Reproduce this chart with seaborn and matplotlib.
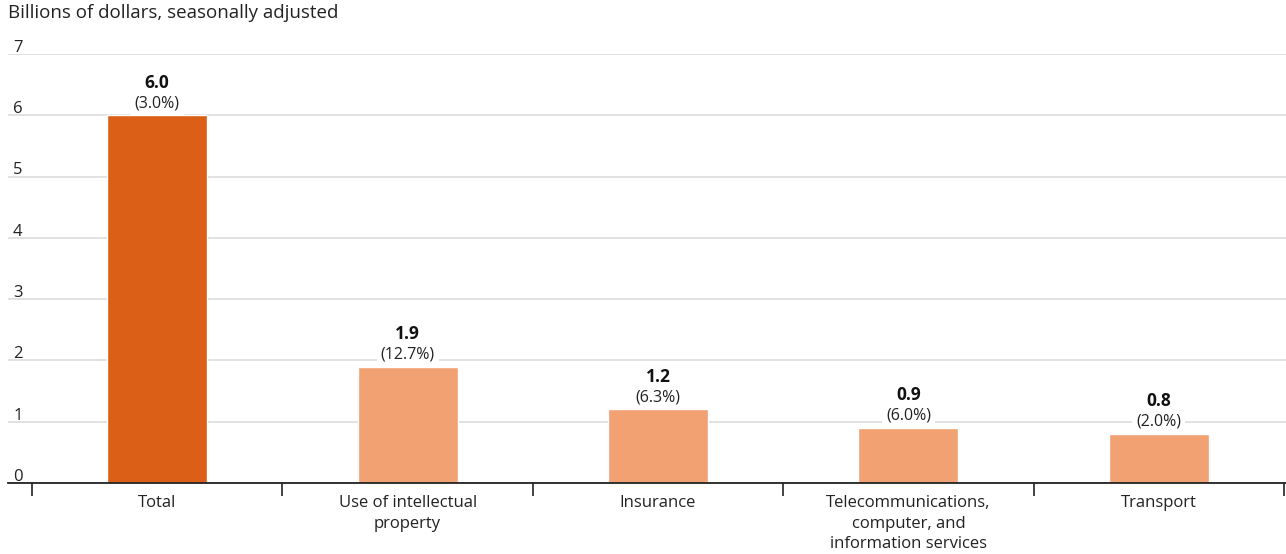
import matplotlib
matplotlib.use("Agg")
import matplotlib.pyplot as plt
import matplotlib.transforms as mtransforms
import seaborn as sns
import pandas as pd

categories = ["Total", "Use of intellectual\nproperty", "Insurance",
              "Telecommunications,\ncomputer, and\ninformation services", "Transport"]
values = [6.0, 1.9, 1.2, 0.9, 0.8]
pct_labels = ["(3.0%)", "(12.7%)", "(6.3%)", "(6.0%)", "(2.0%)"]
yticks = [0, 1, 2, 3, 4, 5, 6, 7]
ylabel = "Billions of dollars, seasonally adjusted"

dark = "#DC5F17"
light = "#F2A173"
colors = [dark, light, light, light, light]

sns.set_theme(style="white")
plt.rcParams["font.family"] = ["Open Sans", "DejaVu Sans"]

df = pd.DataFrame({"cat": categories, "val": values})

fig = plt.figure(figsize=(12.86, 5.54), dpi=100)
ax = fig.add_axes([8/1286, 1 - 483/554, 1 - 8/1286, (483 - 54)/554])

sns.barplot(data=df, x="cat", y="val", hue="cat", palette=colors, legend=False,
            width=0.4, ax=ax, saturation=1, zorder=3)

ax.set_ylim(0, 7)
ax.set_xlim(-0.596, 4.508)
ax.set_yticks(yticks)
ax.set_yticklabels([])
ax.tick_params(axis="y", length=0)
ax.yaxis.grid(True, color="#dcdcdc", linewidth=1.2, zorder=0)
ax.set_axisbelow(True)

for s in ["top", "right", "left"]:
    ax.spines[s].set_visible(False)
ax.spines["bottom"].set_color("#222222")
ax.spines["bottom"].set_linewidth(1.3)
ax.spines["bottom"].set_zorder(5)

# y tick labels above gridlines
tr = mtransforms.blended_transform_factory(ax.transAxes, ax.transData)
for t in yticks:
    ax.annotate(str(t), (0.004, t), xycoords=tr, xytext=(0, 1.5), textcoords="offset points",
                ha="left", va="baseline", fontsize=12, color="#222222")

# x ticks at category boundaries
ax.set_xticks([i + 0.5 for i in range(-1, 5)], minor=True)
ax.set_xticks(range(len(categories)))
ax.set_xticklabels(categories, fontsize=12, color="#222222", linespacing=1.4)
ax.tick_params(axis="x", which="major", length=0, pad=8.5)
ax.tick_params(axis="x", which="minor", bottom=True, length=9, width=1.2, color="#222222", direction="out")
ax.set_xlabel("")
ax.set_ylabel("")

# value labels
for i, (v, p) in enumerate(zip(values, pct_labels)):
    ax.annotate(p, (i, v), xytext=(0, 3), textcoords="offset points", ha="center", va="bottom",
                fontsize=11.5, color="#222222", zorder=6,
                bbox=dict(boxstyle="square,pad=0.25", fc="white", ec="none"))
    ax.annotate(f"{v:.1f}", (i, v), xytext=(0, 17), textcoords="offset points", ha="center", va="bottom",
                fontsize=12.5, fontweight="bold", color="#111111", zorder=6)

fig.text(8/1286, 1 - 13/554, ylabel, ha="left", va="center", fontsize=13.5, color="#222222")

fig.savefig("out.png", dpi=100)
